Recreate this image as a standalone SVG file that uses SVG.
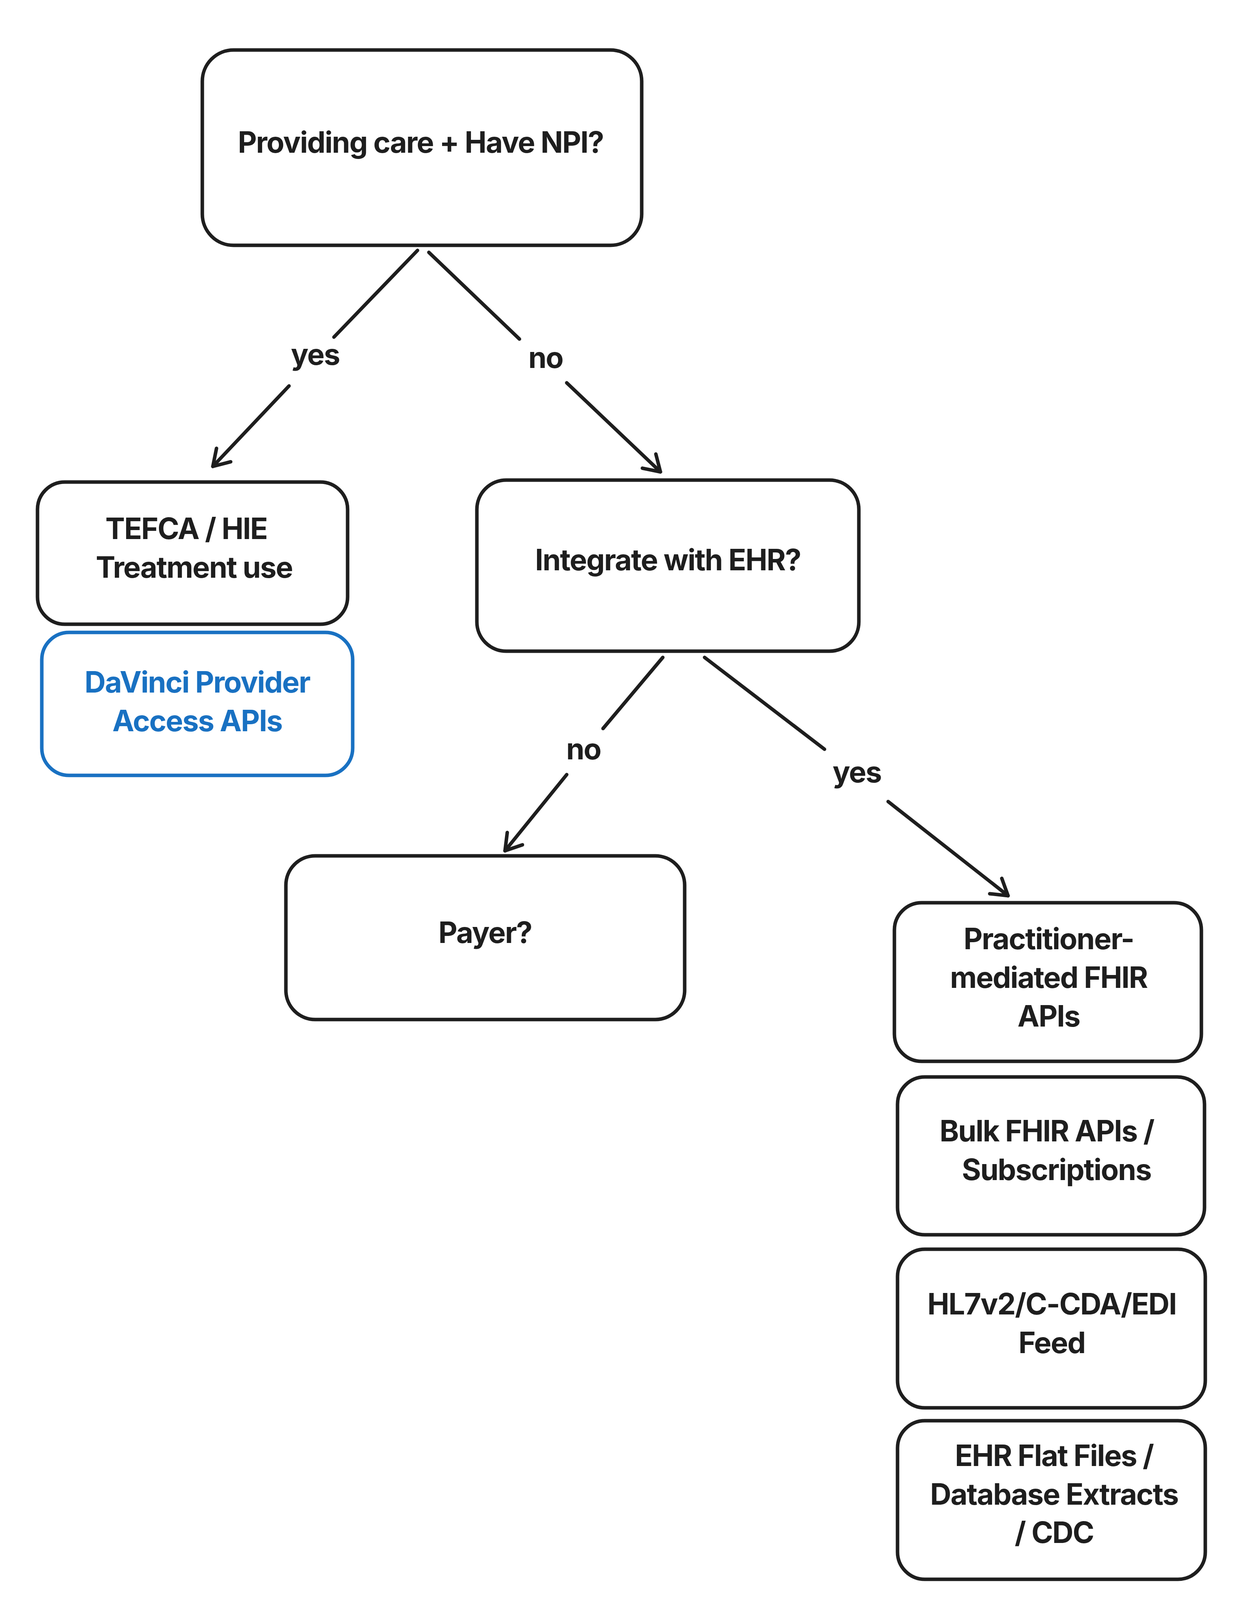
<svg xmlns="http://www.w3.org/2000/svg" width="3180" height="4212" viewBox="0 0 3180 4212">
<style>
.n{fill:#fff;stroke:#1e1e1e;stroke-width:9}
.b{stroke:#1971c2}
text{font-family:Inter,"Liberation Sans",sans-serif;font-weight:700;font-size:75px;letter-spacing:-2px;fill:#1e1e1e;text-anchor:middle;dominant-baseline:middle}
.bt{fill:#1971c2}
.c{stroke:#1e1e1e;stroke-width:9;fill:none;stroke-linecap:round}
</style>
<defs><marker id="a" markerUnits="userSpaceOnUse" markerWidth="80" markerHeight="80" refX="60" refY="40" orient="auto"><path d="M20,15 L60,40 L20,65" fill="none" stroke="#1e1e1e" stroke-width="9" stroke-linecap="round" stroke-linejoin="round"/></marker></defs>
<rect width="3180" height="4212" fill="#fff"/>
<g id="connectors">
<path class="c" d="M1069,641 L855,863"/><path class="c" d="M740,988 L545,1194" marker-end="url(#a)"/>
<text x="807" y="914">yes</text>
<path class="c" d="M1098,646 L1330,868"/><path class="c" d="M1451,980 L1691,1208" marker-end="url(#a)"/>
<text x="1397" y="922">no</text>
<path class="c" d="M1697,1683 L1544,1865"/><path class="c" d="M1451,1983 L1293,2178" marker-end="url(#a)"/>
<text x="1494" y="1924">no</text>
<path class="c" d="M1804,1683 L2111,1918"/><path class="c" d="M2274,2052 L2581,2293" marker-end="url(#a)"/>
<text x="2194" y="1983">yes</text>
</g>
<g id="n1"><rect class="n" x="518" y="128" width="1125" height="500" rx="80"/><text x="1077" y="371">Providing care + Have NPI?</text></g>
<g id="n2"><rect class="n" x="96" y="1234" width="794" height="364" rx="70"/><text x="477" y="1360">TEFCA / HIE</text><text x="497" y="1459">Treatment use</text></g>
<g id="n3"><rect class="n b" x="107" y="1619" width="796" height="366" rx="70"/><text class="bt" x="505" y="1753">DaVinci Provider</text><text class="bt" x="505" y="1852">Access APIs</text></g>
<g id="n4"><rect class="n" x="1221" y="1229" width="978" height="438" rx="75"/><text x="1710" y="1440">Integrate with EHR?</text></g>
<g id="n5"><rect class="n" x="732" y="2191" width="1021" height="419" rx="75"/><text x="1242" y="2394">Payer?</text></g>
<g id="n6"><rect class="n" x="2290" y="2311" width="786" height="406" rx="70"/><text x="2685" y="2410">Practitioner-</text><text x="2685" y="2509">mediated FHIR</text><text x="2685" y="2608">APIs</text></g>
<g id="n7"><rect class="n" x="2298" y="2757" width="786" height="404" rx="70"/><text x="2680" y="2902">Bulk FHIR APIs /</text><text x="2705" y="3001">Subscriptions</text></g>
<g id="n8"><rect class="n" x="2298" y="3198" width="788" height="406" rx="70"/><text x="2693" y="3345">HL7v2/C-CDA/EDI</text><text x="2693" y="3444">Feed</text></g>
<g id="n9"><rect class="n" x="2298" y="3637" width="788" height="406" rx="70"/><text x="2699" y="3733">EHR Flat Files /</text><text x="2699" y="3832">Database Extracts</text><text x="2699" y="3930">/ CDC</text></g>
</svg>
